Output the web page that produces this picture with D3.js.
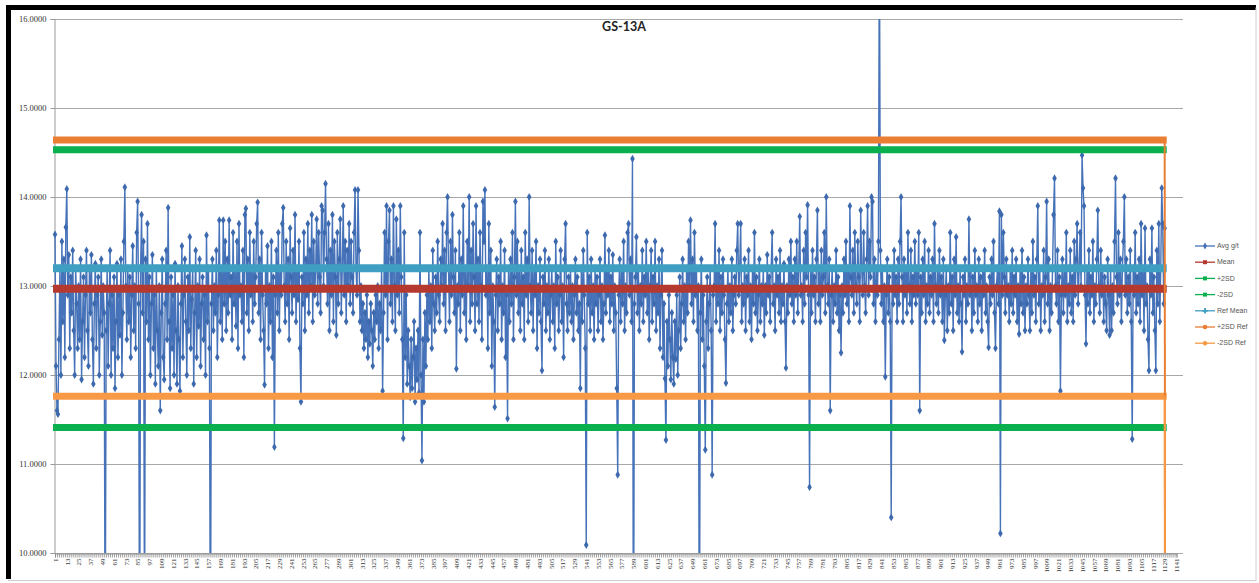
<html>
<script src="https://d3js.org/d3.v7.min.js"></script>
<body style="margin:0;background:#fff">
<svg width="1259" height="583"></svg>
<script>
// Avg g/t, one value per sample (1..1129)
var avgValues = [
13.58,12.1,11.6,11.56,12.4,13.2,12.0,13.5,12.6,13.3,12.2,13.66,14.09,12.9,13.35,12.3,13.1,12.7,13.4,12.5,12.0,13.2,12.8,12.3,13.0,
12.4,13.3,11.95,12.6,13.1,12.2,12.9,13.4,12.5,12.1,13.2,12.7,13.35,12.4,11.9,12.8,13.25,12.3,12.9,13.1,12.0,12.6,13.3,12.45,13.0,
12.7,8.6,12.5,13.2,12.1,12.8,13.4,12.0,12.9,12.3,13.1,11.85,12.6,13.25,12.2,12.9,12.45,13.3,12.0,12.7,13.5,14.11,13.0,12.4,13.2,
12.6,13.1,12.2,12.9,13.45,12.5,13.0,12.3,13.6,13.95,12.8,8.3,13.2,13.8,12.7,13.5,8.9,13.3,12.6,13.7,12.4,13.1,12.0,12.8,13.35,
12.3,12.9,11.9,13.2,12.5,12.1,13.0,11.6,12.7,13.3,12.2,11.95,12.8,13.4,12.4,13.88,12.6,11.85,13.1,12.3,12.9,12.0,13.25,12.5,11.9,
13.0,12.4,11.82,12.8,13.45,12.2,12.9,13.3,12.6,12.0,13.1,12.5,13.55,12.3,12.85,13.2,11.9,12.7,13.4,12.2,13.0,12.55,13.3,12.1,12.8,
13.1,12.4,12.9,12.0,13.57,12.6,13.2,12.3,8.4,12.8,13.3,12.5,13.0,12.7,13.4,12.2,12.9,13.74,12.6,13.2,12.4,13.74,12.8,13.5,12.5,
13.3,12.7,13.74,12.9,13.1,12.4,13.6,12.8,13.2,12.55,13.5,12.3,13.7,12.9,13.0,12.6,13.4,12.2,13.8,13.87,12.7,13.3,12.5,13.6,12.9,
13.2,12.6,13.5,12.8,13.1,13.7,13.94,12.7,13.3,12.4,13.6,12.9,12.5,11.89,13.2,12.8,13.45,12.3,13.0,12.6,13.5,12.2,13.1,11.19,12.9,
13.4,12.7,13.6,12.5,13.2,12.9,13.7,13.88,13.0,12.6,13.5,12.8,13.3,12.4,13.65,13.1,12.7,13.4,12.9,13.8,12.6,13.2,12.85,13.5,12.3,
11.7,13.1,12.8,13.6,12.5,13.3,12.9,13.7,12.7,13.4,13.0,13.8,12.6,13.5,12.9,13.2,13.75,12.8,13.6,13.1,12.7,13.9,13.85,13.0,13.6,
14.15,13.3,12.8,13.7,12.5,13.4,12.9,13.8,12.6,13.5,13.1,12.45,13.6,12.8,13.3,13.75,12.7,13.2,13.9,12.9,13.5,12.6,13.4,13.0,13.7,
12.8,13.5,13.1,12.7,13.6,14.08,13.2,12.9,14.08,13.4,12.6,13.0,12.5,12.8,12.3,12.7,12.4,12.9,12.2,12.6,12.35,12.8,12.5,12.1,12.7,
12.4,12.9,12.6,13.0,12.3,12.8,12.5,13.2,11.82,12.7,13.6,12.9,13.9,12.4,13.5,13.85,12.8,13.3,12.6,13.9,13.0,12.5,13.75,12.9,13.4,
12.7,13.9,13.1,12.4,11.29,13.6,12.2,12.9,11.9,12.5,12.1,11.75,12.4,11.85,12.2,12.6,11.7,12.3,11.95,12.5,11.8,13.6,12.0,11.04,12.4,
11.7,12.7,12.1,12.9,12.4,13.2,12.6,13.0,12.3,13.4,12.8,12.5,13.1,12.7,13.5,12.9,12.6,13.3,13.0,13.7,12.8,13.4,12.5,13.6,14.0,
13.2,12.6,13.5,12.9,13.8,13.1,12.7,13.4,12.07,13.0,12.8,13.6,12.5,13.3,12.9,13.9,12.7,13.2,12.4,13.5,13.0,14.0,12.6,13.4,12.8,
13.7,13.1,12.5,13.9,12.8,13.3,12.6,13.6,13.0,12.4,13.95,13.5,14.08,12.9,13.2,12.3,13.7,12.7,13.4,12.1,13.0,12.6,11.64,12.9,13.3,
12.5,13.1,12.8,13.5,12.4,13.0,12.7,13.4,12.2,12.9,11.51,13.2,12.6,13.3,12.8,13.6,12.4,13.1,13.95,12.9,13.5,12.7,13.2,12.5,13.4,
12.8,13.1,12.4,13.6,12.9,13.3,12.6,14.0,13.0,12.7,13.4,12.5,13.2,12.9,13.5,12.3,13.0,12.7,13.3,12.6,12.05,13.1,12.8,13.4,12.5,
13.0,12.7,13.3,12.4,12.9,13.2,12.6,13.0,12.3,13.5,12.8,13.1,12.5,12.9,13.4,12.6,13.0,12.2,13.3,13.7,12.8,12.5,13.1,12.7,13.2,
12.6,13.0,12.4,12.9,13.3,12.7,13.1,12.5,12.8,11.85,13.2,12.6,13.4,12.9,12.3,10.09,13.6,12.8,13.1,12.5,13.3,12.7,13.0,12.4,13.2,
12.8,13.1,12.5,12.9,13.3,12.6,13.0,12.4,12.8,13.57,12.7,13.2,12.9,13.4,12.6,13.1,12.8,13.35,12.5,13.0,12.7,11.85,10.88,12.9,13.3,
12.6,13.2,12.8,13.5,12.5,13.0,12.7,13.6,13.7,12.9,13.3,12.6,14.43,8.0,12.8,13.1,13.55,12.7,13.2,12.5,13.0,12.8,13.4,12.6,13.1,
12.9,13.5,12.7,13.2,12.4,13.0,13.4,12.6,13.1,12.8,13.5,12.5,13.0,12.7,13.3,12.3,12.9,13.4,12.2,12.8,11.96,11.27,12.6,12.1,12.9,
12.4,11.95,12.7,12.2,11.9,12.6,12.18,12.9,12.0,12.5,13.1,12.3,12.8,13.3,12.6,13.0,12.4,13.2,12.7,13.5,13.0,13.74,12.8,13.3,12.6,
13.6,12.9,13.2,12.5,13.0,8.2,12.7,13.3,12.4,12.9,12.1,11.16,12.6,13.1,12.3,12.8,13.2,12.5,10.88,12.9,13.0,13.7,12.6,13.2,12.8,
13.4,12.5,13.1,12.7,13.3,12.9,12.4,11.91,12.8,13.2,12.6,13.0,12.7,13.3,12.5,12.9,13.1,12.8,13.4,13.7,12.9,13.2,13.7,12.6,13.0,
12.8,13.3,12.5,13.1,12.9,13.4,12.6,13.0,12.4,13.2,12.8,13.6,12.7,13.1,12.5,12.9,13.3,12.6,13.0,12.8,13.2,12.45,13.0,12.7,13.35,
12.9,13.1,12.6,13.2,13.6,12.8,13.0,12.5,13.3,12.9,13.1,12.7,13.4,12.6,13.0,12.8,13.25,12.6,12.08,13.0,12.7,13.3,12.9,13.5,12.8,
13.1,12.6,13.3,12.9,13.5,12.7,13.2,13.78,12.9,13.0,12.6,13.4,12.8,13.6,13.1,13.91,12.9,10.74,13.2,12.7,13.4,12.9,13.1,12.6,13.3,
13.85,12.8,13.2,12.6,13.4,12.9,13.1,13.6,12.7,14.0,13.0,12.8,13.3,11.6,12.9,13.2,12.6,13.0,12.8,13.4,12.7,13.1,12.5,12.9,12.25,
13.0,12.7,13.3,12.9,13.5,12.8,13.2,12.6,13.9,13.1,12.9,13.4,12.7,13.6,13.0,12.8,13.5,13.1,12.6,13.85,13.2,12.9,13.6,13.0,12.7,
13.3,13.9,12.9,13.5,13.1,14.0,13.95,12.8,13.3,12.6,13.2,12.9,13.5,17.0,13.4,12.8,13.2,12.6,13.0,11.98,12.9,13.3,12.7,13.1,12.6,
10.4,13.2,12.8,13.4,12.9,13.1,12.6,13.3,12.8,13.5,14.0,13.1,12.6,13.3,12.9,13.2,12.7,13.6,13.0,12.8,13.4,12.6,13.1,12.9,13.5,
12.8,13.2,12.9,13.6,11.6,13.1,12.7,13.3,12.9,13.5,12.6,13.0,12.8,13.4,12.7,13.1,12.9,13.3,12.6,13.7,13.0,12.8,13.2,12.7,13.4,
12.9,13.1,12.6,13.3,12.39,12.9,13.2,12.5,13.0,12.7,13.6,12.8,13.1,12.5,13.3,12.9,13.55,12.7,13.0,12.6,13.2,12.8,12.26,13.1,12.9,
13.3,12.6,13.0,12.8,13.75,12.9,13.2,12.5,13.1,12.7,13.4,12.9,13.0,12.6,13.3,12.8,13.1,12.5,13.2,12.9,13.4,12.7,13.0,12.6,12.31,
13.1,12.8,13.3,12.9,13.5,12.7,12.3,13.0,13.2,12.8,13.84,10.22,13.8,12.9,13.6,13.1,12.7,13.3,12.9,13.0,12.6,13.2,12.8,13.4,12.7,
13.1,12.9,13.3,12.6,13.0,12.46,13.2,12.8,13.4,12.7,13.1,12.5,13.0,12.8,13.3,12.9,12.5,13.2,12.7,13.5,12.9,13.1,12.6,13.3,13.9,
12.8,13.2,12.5,13.0,12.9,13.4,12.6,13.1,13.95,12.8,13.3,12.5,13.0,12.7,13.2,13.8,14.21,13.0,12.8,13.4,12.6,13.1,11.82,12.9,13.3,
12.7,13.2,12.9,13.6,12.6,13.0,12.8,13.4,12.7,13.1,12.6,13.5,12.9,13.3,13.7,12.8,13.2,13.6,13.0,14.47,14.1,13.9,12.9,12.35,13.2,
12.8,13.4,12.7,13.1,12.9,13.5,12.6,13.0,12.8,13.3,13.85,13.0,12.7,13.4,12.9,13.2,12.6,13.1,12.8,12.5,13.3,12.9,12.45,13.2,12.5,
13.0,12.7,13.5,14.21,13.1,12.8,13.6,12.9,13.3,12.6,13.2,13.5,14.0,12.9,13.3,12.7,13.1,12.8,13.4,12.6,11.28,13.2,12.9,13.6,12.7,
13.1,12.8,13.3,12.6,13.7,12.9,13.2,12.5,13.65,12.8,13.0,12.4,12.05,13.3,12.9,13.65,12.7,13.1,12.5,12.05,13.4,12.8,13.7,12.6,13.2,
14.1,13.7,12.8,13.65
];

// constant series
var meanValue = 12.97;
var plus2sd = 14.53;
var minus2sd = 11.41;
var refMean = 13.20;
var plus2sdRef = 14.64;
var minus2sdRef = 11.76;
var refDropValue = 0; // ref series fall to zero after the last sample

var seriesNames = ["Avg g/t", "Mean", "+2SD", "-2SD", "Ref Mean", "+2SD Ref", "-2SD Ref"];
var seriesColors = ["#4572B8", "#B5392F", "#0BB04E", "#0BB04E", "#3F9FC2", "#EA7E33", "#F89A45"];

var yTicks = [10, 11, 12, 13, 14, 15, 16];
var xTickLabels = [1,13,25,37,49,61,73,85,97,109,121,133,145,157,169,181,193,205,217,229,241,253,265,277,289,301,313,325,337,349,
361,373,385,397,409,421,433,445,457,469,481,493,505,517,529,541,553,565,577,589,601,613,625,637,649,661,673,685,697,709,
721,733,745,757,769,781,793,805,817,829,841,853,865,877,889,901,913,925,937,949,961,973,985,997,1009,1021,1033,1045,1057,1069,
1081,1093,1105,1117,1129,1141];

var categories = d3.range(1, 1142);
var lastSample = avgValues.length;

var svg = d3.select("svg");

// frame
svg.append("path").attr("d", "M8.5,579V7.5H1256").attr("fill", "none").attr("stroke", "#000").attr("stroke-width", 5);
svg.append("path").attr("d", "M1256,7.5V580.5H8").attr("fill", "none").attr("stroke", "#d0d0d0").attr("stroke-width", 1);

var x = d3.scalePoint().domain(categories).range([55, 1176.5]);
var y = d3.scaleLinear().domain([10, 16]).range([553, 19]);

// gridlines
svg.append("g").selectAll("line").data(yTicks).join("line")
    .attr("x1", 54).attr("x2", 1183)
    .attr("y1", d => y(d) + 0.5).attr("y2", d => y(d) + 0.5)
    .attr("stroke", "#a8a8a8").attr("stroke-width", 1);

// y axis
var yAxis = svg.append("g").attr("transform", "translate(54.5,0)")
    .call(d3.axisLeft(y).tickValues(yTicks).tickSize(4).tickFormat(d3.format(".4f")));
yAxis.select(".domain").attr("stroke", "#999");
yAxis.selectAll(".tick line").attr("stroke", "#999");
yAxis.selectAll("text").attr("font-family", "Liberation Serif").attr("font-size", 8.5).attr("fill", "#333").attr("x", -8);

// x axis: dense tick band
var xTicksAxis = svg.append("g").attr("transform", "translate(0,553.5)")
    .call(d3.axisBottom(x).tickValues(categories.filter(c => c % 2 === 1)).tickSize(4).tickFormat(""));
xTicksAxis.select(".domain").attr("stroke", "#999");
xTicksAxis.selectAll(".tick line").attr("stroke", "#8c8c8c").attr("stroke-width", 0.8);

var xLabels = svg.append("g").attr("transform", "translate(0,553.5)")
    .call(d3.axisBottom(x).tickValues(xTickLabels).tickSize(0));
xLabels.select(".domain").remove();
xLabels.selectAll("text")
    .attr("font-family", "Liberation Serif").attr("font-size", 7).attr("fill", "#333")
    .attr("transform", "rotate(-90)")
    .attr("x", -5).attr("y", 0).attr("dy", "0.32em")
    .style("text-anchor", "end");

// clip to plot area
svg.append("clipPath").attr("id", "plot").append("rect")
    .attr("x", 40).attr("y", 19).attr("width", 1150).attr("height", 534);
var plot = svg.append("g").attr("clip-path", "url(#plot)");

// Avg g/t
var line = d3.line().x((d, i) => x(i + 1)).y(d => y(d));
plot.append("path").datum(avgValues)
    .attr("d", line).attr("fill", "none")
    .attr("stroke", seriesColors[0]).attr("stroke-width", 1.4);
plot.append("g").selectAll("path").data(avgValues).join("path")
    .attr("transform", (d, i) => "translate(" + x(i + 1) + "," + y(d) + ")")
    .attr("d", d3.symbol().type(d3.symbolDiamond).size(18))
    .attr("fill", "#3D69AE");

// constant lines (dense markers make them look thick)
var constants = [
    {v: meanValue, color: seriesColors[1], w: 8},
    {v: plus2sd, color: seriesColors[2], w: 7},
    {v: minus2sd, color: seriesColors[3], w: 7},
    {v: refMean, color: seriesColors[4], w: 8},
    {v: plus2sdRef, color: seriesColors[5], w: 7},
    {v: minus2sdRef, color: seriesColors[6], w: 7}
];
plot.append("g").selectAll("line").data(constants).join("line")
    .attr("x1", x(1) - 2).attr("x2", x(lastSample) + 2)
    .attr("y1", d => y(d.v)).attr("y2", d => y(d.v))
    .attr("stroke", d => d.color).attr("stroke-width", d => d.w);

// ref series drop after the last sample
plot.append("g").selectAll("line").data([plus2sdRef, minus2sdRef]).join("line")
    .attr("x1", x(lastSample)).attr("x2", x(lastSample + 1))
    .attr("y1", d => y(d)).attr("y2", y(refDropValue))
    .attr("stroke", (d, i) => seriesColors[5 + i]).attr("stroke-width", 2);

// title
svg.append("text").attr("x", 624).attr("y", 31).attr("text-anchor", "middle")
    .attr("font-family", "Lato").attr("font-weight", "bold").attr("font-size", 12.5)
    .attr("fill", "#222").text("GS-13A");

// legend
var legend = svg.append("g").selectAll("g").data(seriesNames).join("g")
    .attr("transform", (d, i) => "translate(1195," + (246 + i * 16.2) + ")");
legend.append("line").attr("x1", 0).attr("x2", 20).attr("y1", 0).attr("y2", 0)
    .attr("stroke", (d, i) => seriesColors[i]).attr("stroke-width", 1.3);
legend.append("path")
    .attr("transform", "translate(10,0)")
    .attr("d", (d, i) => d3.symbol().type([d3.symbolDiamond, d3.symbolSquare, d3.symbolSquare, d3.symbolSquare, d3.symbolCross, d3.symbolCircle, d3.symbolCircle][i]).size(i === 0 ? 14 : 16)())
    .attr("fill", (d, i) => seriesColors[i]);
legend.append("text").attr("x", 22).attr("y", 0).attr("dy", "0.32em")
    .attr("font-family", "Liberation Sans").attr("font-size", 7).attr("fill", "#555")
    .text(d => d);
</script>
</body>
</html>
